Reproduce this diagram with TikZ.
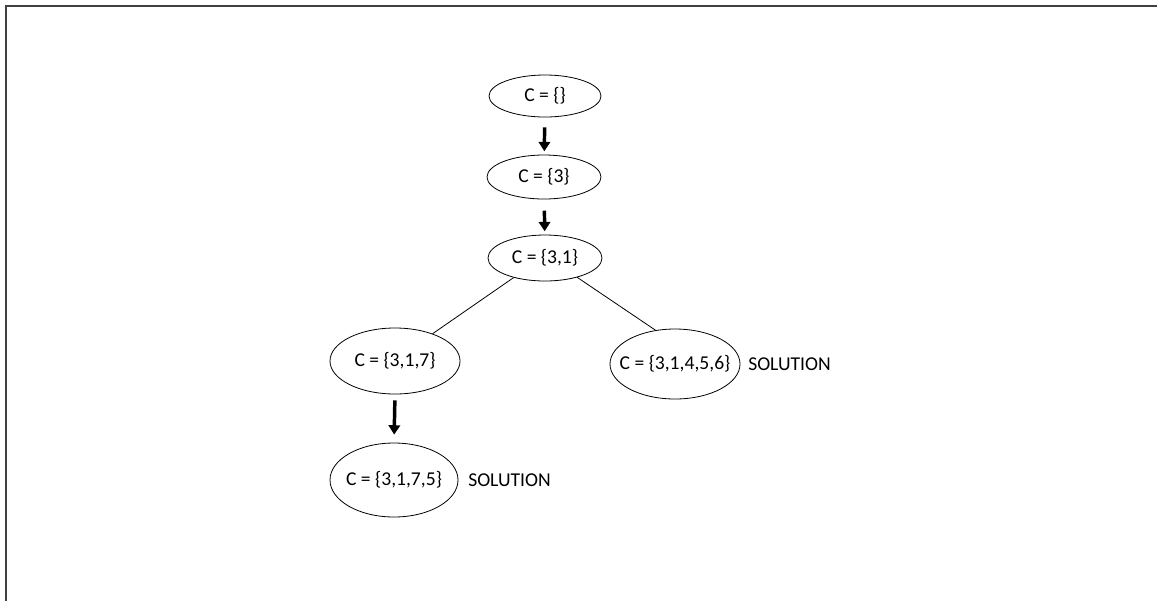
\documentclass[tikz,border=0pt]{standalone}
\usepackage{fontspec}
\setmainfont{Carlito}
\usetikzlibrary{shapes.geometric,arrows.meta}
\begin{document}
\begin{tikzpicture}[x=0.75pt,y=-0.75pt,
  state/.style={ellipse,draw,line width=0.6pt,inner sep=0pt},
  txt/.style={font=\fontsize{14.7}{16}\selectfont,inner sep=0pt},
  lbl/.style={font=\fontsize{14.7}{16}\selectfont,anchor=west,inner sep=0pt},
  bigarrow/.style={line width=2.6pt,-{Triangle[length=7pt,width=8.5pt]}},
  link/.style={line width=0.6pt}]
\useasboundingbox (0,0) rectangle (1157,601);
\fill[white] (0,0) rectangle (1157,601);
\draw[line width=1.5pt,black!75] (6,601) -- (6,6) -- (1157,6);
\node[state,minimum width=112*0.75pt,minimum height=42*0.75pt] (n1) at (545,96) {};
\node[state,minimum width=114*0.75pt,minimum height=44*0.75pt] (n2) at (544,177) {};
\node[state,minimum width=114*0.75pt,minimum height=46*0.75pt] (n3) at (545,258) {};
\node[state,minimum width=130*0.75pt,minimum height=66*0.75pt] (n4) at (395,361) {};
\node[state,minimum width=130*0.75pt,minimum height=70*0.75pt] (n5) at (675,364) {};
\node[state,minimum width=128*0.75pt,minimum height=74*0.75pt] (n6) at (394,480) {};
\node[txt] (t1) at (n1) {C = \{\}};
\node[txt] (t2) at (n2) {C = \{3\}};
\node[txt] (t3) at (n3) {C = \{3,1\}};
\node[txt] (t4) at (n4) {C = \{3,1,7\}};
\node[txt] (t5) at (n5) {C = \{3,1,4,5,6\}};
\node[txt] (t6) at (n6) {C = \{3,1,7,5\}};
\node[lbl] (s1) at (748,364) {SOLUTION};
\node[lbl] (s2) at (468,480) {SOLUTION};
\draw[bigarrow,shorten <=7.5pt,shorten >=2.5pt] (n1) -- (n2);
\draw[bigarrow,shorten <=8.5pt,shorten >=2.5pt] (n2) -- (n3);
\draw[bigarrow,shorten <=4.5pt,shorten >=6pt] (n4.south) -- (n6.north);
\draw[link] (n3.212) -- (n4.36);
\draw[link] (n3.-31) -- (n5.120);
\end{tikzpicture}
\end{document}
